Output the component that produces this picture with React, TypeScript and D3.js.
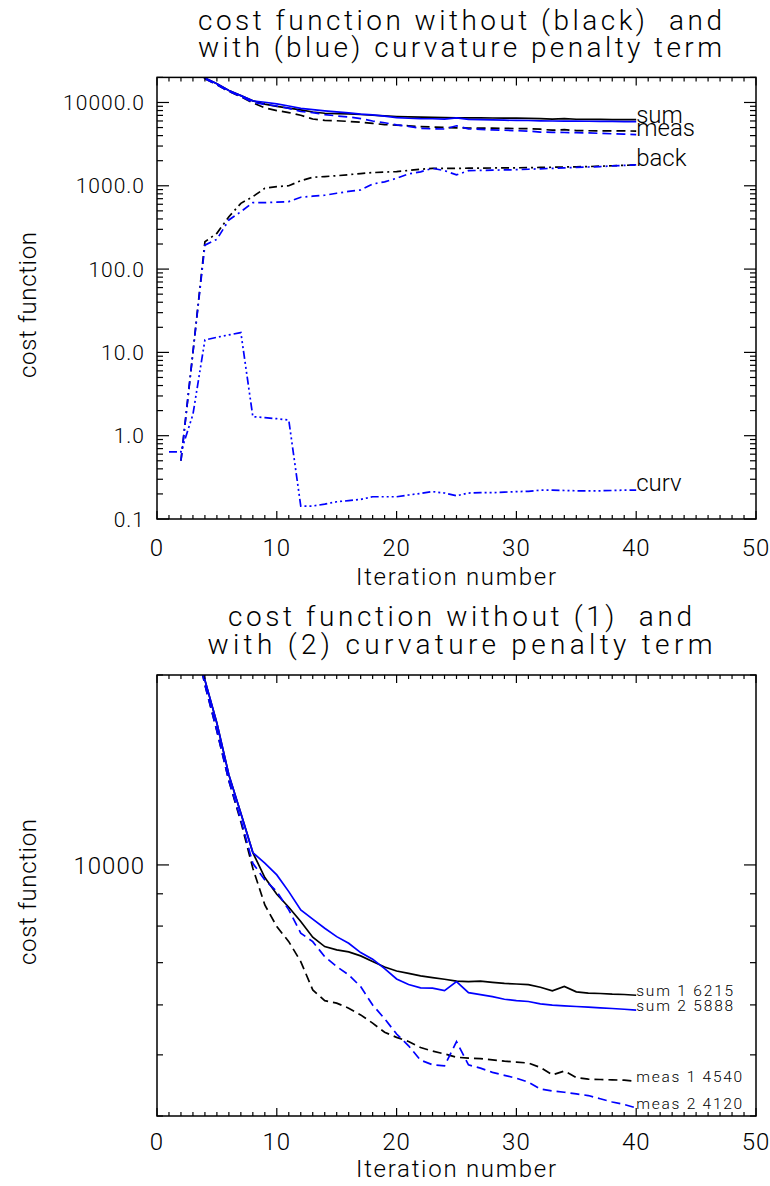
import React from 'react';
import * as d3 from 'd3';

// iteration numbers for each group of series
const itSum = d3.range(3, 41);
const itBack = d3.range(2, 41);
const itCurv = d3.range(1, 41);

// total cost, without (1) and with (2) curvature penalty
const sum1 = [24000, 19630, 16770, 13890, 12076, 10460, 9550, 8985, 8570, 8133, 7683, 7423, 7333, 7280, 7175, 7027, 6890, 6790, 6730, 6670, 6630, 6588, 6545, 6530, 6545, 6515, 6490, 6476, 6460, 6400, 6315, 6417, 6292, 6262, 6255, 6240, 6232, 6215];
const sum2 = [24000, 19630, 16770, 13890, 12076, 10460, 10062, 9642, 9072, 8487, 8204, 7937, 7697, 7514, 7262, 7089, 6850, 6595, 6465, 6385, 6380, 6320, 6533, 6275, 6230, 6183, 6125, 6095, 6075, 6022, 5997, 5980, 5965, 5950, 5937, 5922, 5905, 5888];
// measurement term
const meas1 = [23500, 19300, 16300, 13600, 11700, 9880, 8642, 7986, 7557, 7027, 6337, 6095, 6038, 5929, 5785, 5613, 5430, 5330, 5250, 5135, 5070, 5017, 4957, 4940, 4933, 4910, 4887, 4870, 4853, 4775, 4647, 4714, 4603, 4575, 4570, 4564, 4558, 4540];
const meas2 = [23500, 19300, 16300, 13600, 11800, 10060, 9467, 9072, 8487, 7797, 7557, 7156, 6900, 6694, 6413, 5998, 5705, 5395, 5168, 4904, 4823, 4803, 5248, 4820, 4763, 4690, 4640, 4592, 4525, 4414, 4382, 4362, 4335, 4310, 4260, 4210, 4171, 4120];
// background term
const back1 = [0.5, 10, 213, 269, 425, 616, 740, 933, 977, 1000, 1150, 1265, 1290, 1320, 1360, 1400, 1440, 1460, 1480, 1530, 1580, 1620, 1620, 1620, 1625, 1630, 1635, 1640, 1645, 1650, 1660, 1670, 1680, 1690, 1700, 1720, 1740, 1760, 1780];
const back2 = [0.5, 10, 194, 228, 389, 489, 627, 627, 635, 645, 728, 750, 770, 813, 855, 890, 1050, 1115, 1230, 1390, 1470, 1620, 1520, 1350, 1520, 1530, 1540, 1550, 1560, 1580, 1600, 1620, 1640, 1660, 1680, 1700, 1730, 1760, 1780];
// curvature penalty (blue run only)
const curv2 = [0.64, 0.64, 1.8, 14.1, 15.2, 16.2, 17.3, 1.69, 1.65, 1.6, 1.54, 0.143, 0.143, 0.151, 0.161, 0.166, 0.172, 0.185, 0.185, 0.185, 0.194, 0.203, 0.213, 0.205, 0.19, 0.205, 0.207, 0.207, 0.21, 0.213, 0.215, 0.222, 0.222, 0.22, 0.218, 0.218, 0.218, 0.22, 0.222, 0.222];

const xTicks = [0, 10, 20, 30, 40, 50];
const topYLabels = [0.1, 1, 10, 100, 1000, 10000];
const bottomYLabels = [10000];

const FONT = "Roboto, 'DejaVu Sans', sans-serif";
const BLUE = '#0000ff';
const DASH = '9,5';
const DASHDOT = '8,4,2,4';
const DASHDOT3 = '8,3,2,3,2,3,2,3';

function logTicks(min, max) {
  const out = [];
  for (let d = Math.floor(Math.log10(min)); d <= Math.ceil(Math.log10(max)); d++) {
    for (let m = 1; m <= 9; m++) {
      const v = m * Math.pow(10, d);
      if (v >= min * 0.999 && v <= max * 1.001) out.push({ v, major: m === 1 });
    }
  }
  return out;
}

function Panel({ id, top, bottom, yMin, yMax, yLabels, yFmt, yLabelSize, titles, titleWidths, titleY, series, labels, ylabY, xTickOff, xLabOff }) {
  const x = d3.scaleLinear().domain([0, 50]).range([157, 756]);
  const y = d3.scaleLog().domain([yMin, yMax]).range([bottom, top]);
  const left = x(0), right = x(50);
  const line = d3.line().x(d => x(d[0])).y(d => y(d[1]));
  const yt = logTicks(yMin, yMax);
  const xt = d3.range(0, 51);
  return (
    <g>
      <defs>
        <clipPath id={id}>
          <rect x={left} y={top} width={right - left} height={bottom - top} />
        </clipPath>
      </defs>
      {titles.map((t, i) => (
        <text key={i} x={460} y={titleY[i]} textAnchor="middle" fontSize={28} fontFamily={FONT} fontWeight={300}
          textLength={titleWidths[i]} lengthAdjust="spacing" xmlSpace="preserve">{t}</text>
      ))}
      <g clipPath={`url(#${id})`} fill="none" strokeWidth={1.7}>
        {series.map((s, i) => (
          <path key={i} d={line(s.it.map((n, j) => [n, s.v[j]]))} stroke={s.color} strokeDasharray={s.dash} />
        ))}
      </g>
      {labels.map((l, i) => (
        <text key={i} x={x(40)} y={y(l.v) + 1} fontSize={l.size} fontFamily={FONT} fontWeight={300}
          textLength={l.w} lengthAdjust="spacing" xmlSpace="preserve">{l.text}</text>
      ))}
      <rect x={left} y={top} width={right - left} height={bottom - top} fill="none" stroke="#000" strokeWidth={1.5} />
      <g stroke="#000" strokeWidth={1.2}>
        {xt.map(t => {
          const len = t % 10 === 0 ? 8 : 4;
          return (
            <g key={t}>
              <line x1={x(t)} x2={x(t)} y1={bottom} y2={bottom - len} />
              <line x1={x(t)} x2={x(t)} y1={top} y2={top + len} />
            </g>
          );
        })}
        {yt.map(t => {
          const len = t.major ? 12 : 6;
          return (
            <g key={t.v}>
              <line x1={left} x2={left + len} y1={y(t.v)} y2={y(t.v)} />
              <line x1={right} x2={right - len} y1={y(t.v)} y2={y(t.v)} />
            </g>
          );
        })}
      </g>
      {xTicks.map(t => (
        <text key={t} x={x(t)} y={bottom + xTickOff} textAnchor="middle" fontSize={24} fontFamily={FONT} fontWeight={300} letterSpacing={1}>{t}</text>
      ))}
      {yLabels.map(t => (
        <text key={t} x={left - 12} y={y(t) + yLabelSize * 0.36} textAnchor="end" fontSize={yLabelSize} fontFamily={FONT} fontWeight={300} letterSpacing={1}>{yFmt(t)}</text>
      ))}
      <text x={456} y={bottom + xLabOff} textAnchor="middle" fontSize={24} fontFamily={FONT} fontWeight={300} textLength={200} lengthAdjust="spacing">Iteration number</text>
      <text transform={`translate(36,${ylabY}) rotate(-90)`} textAnchor="middle" fontSize={24} fontFamily={FONT} fontWeight={300} textLength={146} lengthAdjust="spacing">cost function</text>
    </g>
  );
}

export default function App() {
  const topSeries = [
    { it: itSum, v: sum1, color: '#000' },
    { it: itSum, v: meas1, color: '#000', dash: DASH },
    { it: itBack, v: back1, color: '#000', dash: DASHDOT },
    { it: itSum, v: sum2, color: BLUE },
    { it: itSum, v: meas2, color: BLUE, dash: DASH },
    { it: itBack, v: back2, color: BLUE, dash: DASHDOT },
    { it: itCurv, v: curv2, color: BLUE, dash: DASHDOT3 },
  ];
  const bottomSeries = [
    { it: itSum, v: sum1, color: '#000' },
    { it: itSum, v: meas1, color: '#000', dash: DASH },
    { it: itSum, v: sum2, color: BLUE },
    { it: itSum, v: meas2, color: BLUE, dash: DASH },
  ];
  const last = a => a[a.length - 1];
  const topLabels = [
    { text: 'sum', v: last(sum2), size: 24 },
    { text: 'meas', v: last(meas2), size: 24 },
    { text: 'back', v: last(back2), size: 24 },
    { text: 'curv', v: last(curv2), size: 24 },
  ];
  const bottomLabels = [
    { text: 'sum 1 6215', v: last(sum1), size: 15.5, w: 97 },
    { text: 'sum 2 5888', v: last(sum2), size: 15.5, w: 97 },
    { text: 'meas 1 4540', v: last(meas1), size: 15.5, w: 106 },
    { text: 'meas 2 4120', v: last(meas2), size: 15.5, w: 106 },
  ];
  return (
    <svg width={770} height={1186} style={{ position: 'absolute', left: 0, top: 0, background: '#fff' }}>
      <rect width={770} height={1186} fill="#fff" />
      <Panel id="clipTop" top={77.4} bottom={519} yMin={0.1} yMax={20000} yLabels={topYLabels}
        yFmt={d3.format('.1f')} yLabelSize={21}
        titles={['cost function without (black)  and', 'with (blue) curvature penalty term']}
        titleWidths={[524, 524]} titleY={[30, 57]} series={topSeries} labels={topLabels} ylabY={305}
        xTickOff={37} xLabOff={66} />
      <Panel id="clipBottom" top={675} bottom={1116} yMin={4000} yMax={20000} yLabels={bottomYLabels}
        yFmt={d3.format('d')} yLabelSize={24}
        titles={['cost function without (1)  and', 'with (2) curvature penalty term']}
        titleWidths={[464, 505]} titleY={[626, 654]} series={bottomSeries} labels={bottomLabels} ylabY={892}
        xTickOff={34} xLabOff={61} />
    </svg>
  );
}
